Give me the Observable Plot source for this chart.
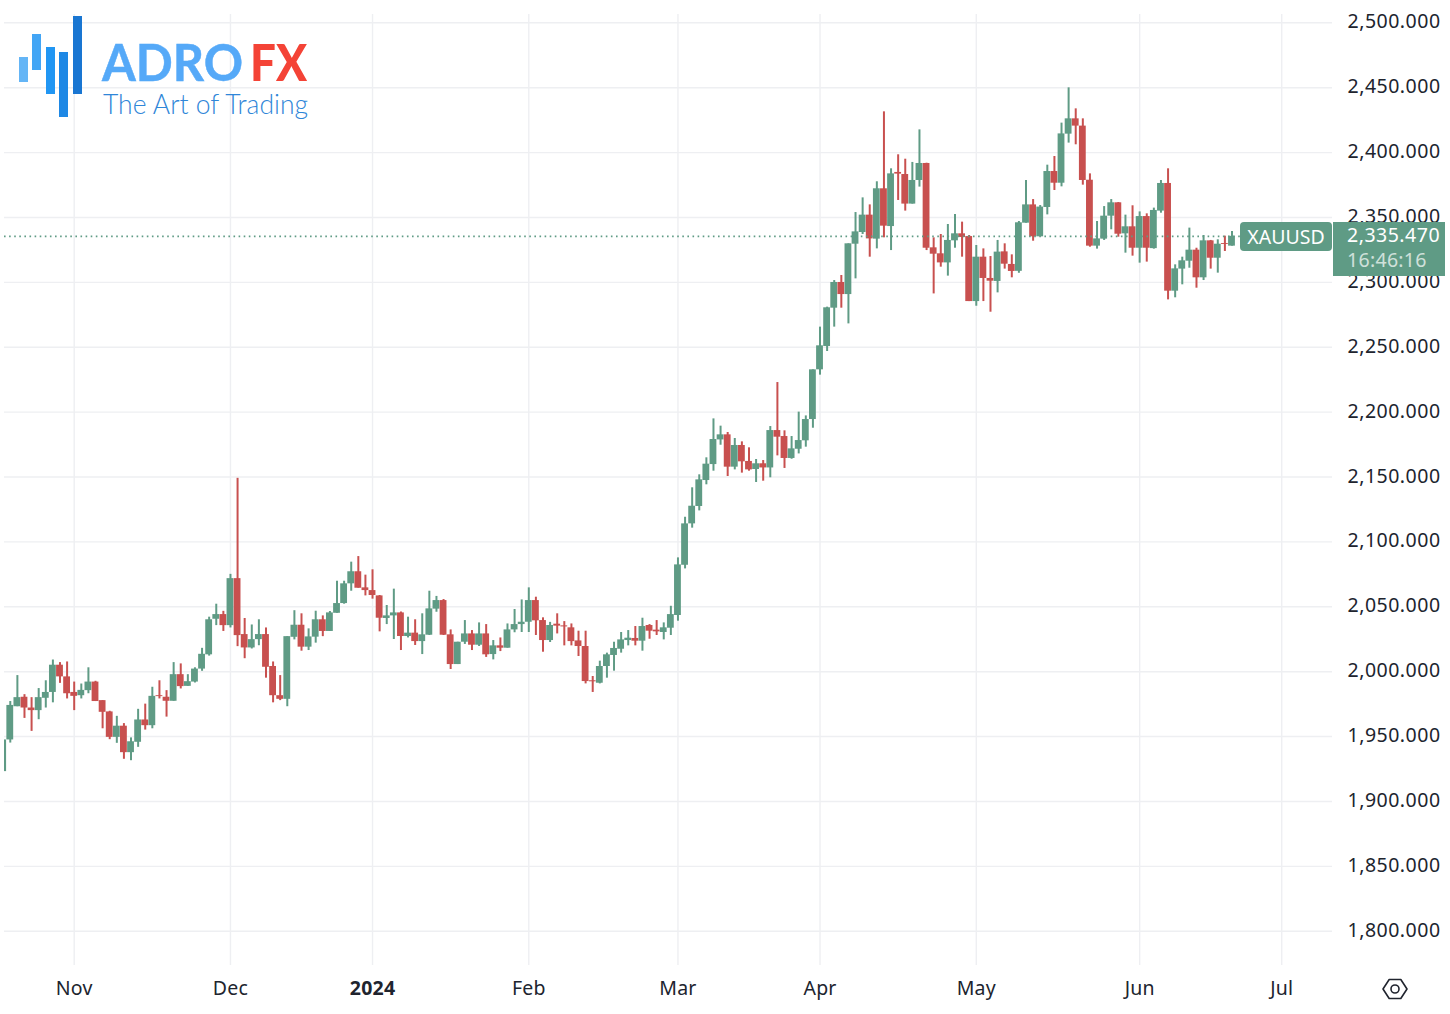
<!DOCTYPE html>
<html>
<head>
<meta charset="utf-8">
<script src="https://cdn.jsdelivr.net/npm/d3@7"></script>
<script src="https://cdn.jsdelivr.net/npm/@observablehq/plot@0.6"></script>
<style>
html,body{margin:0;padding:0;background:#fff;overflow:hidden}
#wrap{position:relative;width:1450px;height:1014px;font-family:"Noto Sans",sans-serif}
#wrap svg{display:block}
#wrap svg g[aria-label="y-axis tick label"] text{letter-spacing:.5px}
#wrap svg g[aria-label="x-axis tick label"] text{letter-spacing:.2px}
.ov{position:absolute;box-sizing:border-box;white-space:nowrap}
</style>
</head>
<body>
<div id="wrap"></div>
<script>
const symbol = "XAUUSD";
const lastPrice = 2335.47;
const countdown = "16:46:16";
const priceTicks = [1800,1850,1900,1950,2000,2050,2100,2150,2200,2250,2300,2350,2400,2450,2500];
const monthTicks = [10,32,52,74,95,115,137,160,180];
const monthLabels = ["Nov","Dec","2024","Feb","Mar","Apr","May","Jun","Jul"];
const boldTick = [52];

const opens = [1923,1947.4,1973,1980.3,1972,1970,1979.5,1984,2005,1996,
1984,1981.5,1985.4,1992,1977.7,1969,1949.4,1958,1937.6,1945.6,
1962.8,1958.4,1981.5,1980.3,1977.2,1997.7,1988.7,1992,2002,2013,
2040.4,2044,2035.5,2071.7,2028.6,2018.3,2024.7,2028.6,2004,1981.5,
1978.7,2026.5,2035.8,2018.9,2026.6,2040,2031,2045,2052.5,2067.7,
2077,2064.6,2062.5,2058.4,2041,2043,2045.3,2027.1,2029.7,2023.2,
2028.1,2048.2,2054.8,2028.4,2005.5,2022.7,2029.1,2020.4,2029.1,2013.2,
2019.9,2018.1,2032.2,2036.3,2038.1,2054.8,2039.4,2024,2036.6,2035.3,
2033.8,2023.7,2019.4,1993,1991.1,2004,2012.5,2017.3,2024,2025.6,
2023.5,2035.6,2032,2030.2,2033.5,2043.3,2082,2113.9,2127.3,2147.3,
2159.6,2178.6,2182.5,2157.6,2174.3,2162,2155.8,2160.2,2157,2185.8,
2181.2,2164.3,2171.4,2177.9,2194.3,2232.6,2250.6,2280.1,2299.9,2290.6,
2329.4,2338.4,2351.8,2333.3,2372.1,2343,2384.7,2383.1,2360.3,2378.5,
2391.6,2326.6,2322,2315,2332,2337.4,2335.3,2285.2,2319.4,2303,
2300.7,2323.5,2313.8,2308.5,2345.6,2359.7,2335.1,2357.7,2385.4,2376.4,
2414.2,2426,2420.4,2378.7,2327.9,2333.3,2351,2361.3,2337.4,2342.8,
2326.3,2350.7,2326,2354.9,2376.2,2293.2,2310.2,2316.3,2324.8,2303.5,
2332,2318.6,2329.9,2327.9];

const closes = [1947.4,1974,1980,1972,1970,1980,1984,2005,1996,1983,
1981,1985.6,1992,1977,1968.7,1949.4,1958,1937.6,1946,1962.8,
1958.4,1981,1980.8,1977.2,1997.7,1988.5,1992.3,2002,2013.4,2040,
2044,2035.5,2071.7,2027.8,2018.3,2024.7,2028.6,2003.4,1981.5,1978.7,
2027,2035.8,2018.9,2026.8,2040,2031,2045.3,2052.5,2067.7,2077,
2064.3,2062.5,2058.7,2041.2,2043,2045.3,2027.1,2029.7,2023.2,2028.4,
2048.4,2054.8,2028.1,2005.5,2022.7,2029.1,2020.4,2029.1,2013,2019.9,
2018.1,2032.2,2036.3,2038.1,2054.8,2039.2,2024,2035.6,2035.1,2034.5,
2023.2,2019.4,1992.4,1992.2,2004,2013,2017.9,2024.5,2025.8,2023.5,
2034.8,2031.2,2030.7,2033.8,2044,2082.3,2113.9,2127.5,2147.8,2159.9,
2178.9,2182.5,2157.6,2174.3,2161.7,2155.5,2160.2,2157,2185.8,2180.7,
2164.3,2171.7,2178.1,2194.3,2232.6,2251.1,2280.4,2299.9,2290.6,2329.7,
2338.9,2351.8,2333.5,2372.1,2343.3,2383.6,2383.4,2360.3,2378.5,2391.6,
2326.3,2321.7,2315,2332.3,2337.4,2334.6,2285.2,2319.4,2303,2300.9,
2323.3,2314,2308.4,2345.9,2359.7,2335.1,2358,2385.4,2376.4,2414.4,
2426,2420.4,2378.5,2327.9,2333.5,2351,2361.3,2337.1,2342.8,2326.3,
2350.7,2326.3,2355.4,2376.2,2293.2,2310.4,2316.6,2324.8,2303.5,2332,
2318.6,2329.4,2329.2,2335.47];

const highs = [1947.4,1977,1997,1982.3,1980,1987,1993,2009,2007,2007.5,
1992,1990.5,2003,1992.6,1977.7,1969.5,1965.6,1960,1949,1971,
1975,1988,1993,1985.4,2007,2006,1997.7,2003,2018,2042,
2052,2046.5,2075,2149,2041,2036,2040,2033.7,2007.5,1997,
2027,2047,2044.6,2033,2046.6,2043,2046.4,2069.7,2069.7,2084.4,
2088.7,2074.4,2078.5,2058.7,2051,2063.6,2046,2042,2040,2044.6,
2062,2058,2055.6,2032.2,2022.7,2039.4,2031.7,2037.6,2036.3,2024,
2026,2036.8,2047.9,2055.3,2064.6,2057.4,2041.5,2038,2044.6,2038.6,
2036.8,2031.2,2031.2,1996.3,2008.1,2014.3,2022.7,2030.2,2031.7,2034.8,
2041.2,2036.3,2039.4,2037.6,2050.4,2087.7,2119,2141.7,2151.7,2164.8,
2194.8,2189.2,2184.3,2179.7,2177.1,2172.5,2163.5,2162.7,2188.9,2222.8,
2185.6,2181.2,2200,2197.1,2232.6,2265.5,2280.9,2301.4,2305.3,2329.7,
2353.8,2365.1,2359.7,2377.5,2431.4,2387.5,2398.3,2394.9,2392.4,2417.5,
2391.8,2334.3,2336.9,2344.6,2352.3,2346.4,2336.1,2328.4,2325.8,2319.9,
2332.3,2329.7,2321.2,2346.9,2378.5,2363.8,2359.2,2390.3,2397,2422.7,
2449.9,2433.7,2426,2383.6,2346.9,2358.4,2363.8,2361.5,2351.8,2359,
2354.3,2352.8,2357.2,2378.5,2387.5,2313.5,2319.4,2341.8,2326.3,2336.1,
2332.3,2332.8,2335.6,2339.2];

const lows = [1923,1945,1973,1964,1954,1963,1972,1976,1991,1979,
1970,1979,1983,1977,1956,1947.6,1944.8,1932.5,1931.4,1941.7,
1955,1956,1979,1965,1977.2,1986.7,1988.7,1991.3,2000.3,2012,
2035.5,2031,2033.7,2019.3,2010,2017.5,2020,1995,1976,1977.7,
1973,2024.5,2015.8,2016.3,2022,2027,2031,2045,2052,2062,
2064.3,2058.4,2055.9,2030.7,2036.3,2024.8,2016.3,2026,2020.2,2013.2,
2027.9,2045.8,2027.9,2001.7,2005.5,2021,2016.3,2019.4,2011,2009.1,
2015.5,2018.1,2030,2030.2,2030.2,2027.9,2015,2022.5,2029.1,2019.9,
2019.9,2011.7,1990.6,1984,1990.6,1995,2000.4,2014.3,2019.9,2019.9,
2015.8,2025,2027.9,2024.5,2027.9,2038.9,2079.2,2110.6,2123.9,2144,
2154.5,2174.5,2150.4,2155.5,2153,2154.5,2145.8,2146.8,2149.4,2166.3,
2156.6,2163.7,2167.8,2173,2187.6,2228.5,2246.7,2265.5,2280.1,2268,
2302.7,2336.9,2319.4,2325.8,2334.3,2324.5,2363.1,2354.9,2360.3,2373.4,
2324.5,2291.1,2311.7,2304.8,2326.3,2319.4,2285.2,2281.6,2285.2,2277,
2291.9,2310.2,2303.5,2307,2345.6,2331.7,2335.1,2352,2370.8,2373.6,
2407.3,2406,2374.9,2327.1,2325.6,2332.3,2340.5,2334.8,2322.5,2320.2,
2314.8,2315.6,2325.6,2353.3,2286.5,2288.1,2298.1,2310.9,2295.5,2301.4,
2310.2,2307.1,2323.8,2327.9];

const GREEN = "#5f9b85", RED = "#c8504f", GRID = "#eeeff2", INK = "#20242e";
const rows = opens.map((o, i) => ({i, open:o, high:highs[i], low:lows[i], close:closes[i],
  dir: closes[i] >= o ? "up" : "down"}));
const FONT = '"Noto Sans", sans-serif';

const chart = Plot.plot({
  width: 1450, height: 1014,
  marginLeft: 4, marginRight: 118, marginTop: 14, marginBottom: 49,
  style: {background: "#fff", fontFamily: FONT, overflow: "visible"},
  x: {domain: [0.187, 187.15], label: null, axis: null},
  y: {domain: [1773.6, 2506.4], label: null, axis: null},
  color: {domain: ["up","down"], range: [GREEN, RED]},
  marks: [
    Plot.gridX(monthTicks, {stroke: GRID, strokeOpacity: 1, strokeWidth: 1.4}),
    Plot.gridY(priceTicks, {stroke: GRID, strokeOpacity: 1, strokeWidth: 1.4}),
    Plot.ruleX(rows, {x: "i", y1: "low", y2: "high", stroke: "dir", strokeWidth: 2, clip: true}),
    Plot.rect(rows, {x1: d => d.i - 0.48, x2: d => d.i + 0.48, y1: "open", y2: "close", fill: "dir", inset: 0, clip: true}),
    Plot.ruleY([lastPrice], {stroke: GREEN, strokeWidth: 1.6, strokeDasharray: "1.6 3.5"}),
    Plot.axisX(monthTicks.filter(t => !boldTick.includes(t)), {
      anchor: "bottom", tickSize: 0, tickPadding: 16, label: null,
      tickFormat: t => monthLabels[monthTicks.indexOf(t)],
      fontSize: 19.5, fill: INK, fontFamily: FONT
    }),
    Plot.axisX(boldTick, {
      anchor: "bottom", tickSize: 0, tickPadding: 16, label: null,
      tickFormat: t => monthLabels[monthTicks.indexOf(t)],
      fontSize: 19.5, fontWeight: "bold", fill: INK, fontFamily: FONT
    }),
    Plot.axisY(priceTicks, {
      anchor: "right", tickSize: 0, tickPadding: 15, label: null, dy: -0.7,
      tickFormat: d3.format(",.3f"),
      fontSize: 19.5, fill: INK, fontFamily: FONT
    })
  ]
});

const wrap = document.getElementById("wrap");
wrap.appendChild(chart);

const py = chart.scale("y").apply(lastPrice);

function overlay(css, html) {
  const d = document.createElement("div");
  d.className = "ov";
  d.style.cssText = css;
  d.innerHTML = html;
  wrap.appendChild(d);
}
overlay(`left:1240px;top:${py-14}px;width:92px;height:29px;background:${GREEN};border-radius:4px;color:#fff;font-size:19.5px;line-height:29px;text-align:center`, symbol);
overlay(`left:1333px;top:${py-14}px;width:112px;height:54px;background:${GREEN};color:#fff;font-size:19.5px;line-height:25px;padding-left:14px;letter-spacing:.5px`,
  `<div>${d3.format(",.3f")(lastPrice)}</div><div style="opacity:.7;letter-spacing:.3px">${countdown}</div>`);

// logo
overlay("left:0;top:0;width:330px;height:125px", `
<svg width="330" height="125" style="overflow:visible">
  <rect x="19" y="57" width="9" height="25" fill="#64b5f6"/>
  <rect x="32" y="34" width="9" height="36" fill="#42a5f5"/>
  <rect x="46" y="47" width="9" height="47" fill="#2196f3"/>
  <rect x="59" y="52" width="9" height="65" fill="#1e88e5"/>
  <rect x="73" y="16" width="9" height="78" fill="#1976d2"/>
  <text x="102" y="81" font-family="Lato" font-weight="700" font-size="52" fill="#55a9f8" stroke="#55a9f8" stroke-width=".5" textLength="141" lengthAdjust="spacingAndGlyphs">ADRO</text>
  <text x="250" y="81" font-family="Lato" font-weight="900" font-size="52" fill="#f44336" textLength="57" lengthAdjust="spacingAndGlyphs">FX</text>
  <text x="103" y="114" font-family="Lato" font-weight="300" font-size="27" fill="#2f86d8" textLength="205" lengthAdjust="spacingAndGlyphs">The Art of Trading</text>
</svg>`);

// settings icon
overlay("left:1381px;top:975px;width:28px;height:28px", `
<svg width="28" height="28" viewBox="0 0 28 28" fill="none" stroke="${INK}" stroke-width="1.6">
  <path d="M8.2 4.5h11.6L26 14l-6.2 9.5H8.2L2 14z" stroke-linejoin="round"/>
  <circle cx="14" cy="14" r="4"/>
</svg>`);
</script>
</body>
</html>
